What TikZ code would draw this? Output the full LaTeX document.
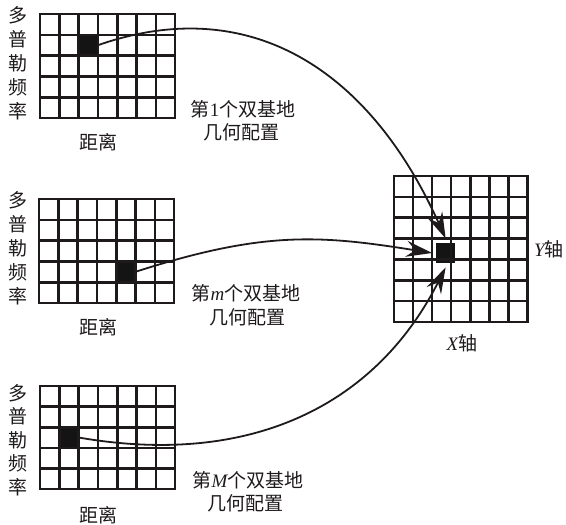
\documentclass[tikz,border=0pt]{standalone}
\usepackage{fontspec}
\setmainfont{Liberation Serif}
\newfontfamily\cjk{Noto Sans CJK SC}
\usetikzlibrary{arrows.meta}
\definecolor{ink}{HTML}{1E1A1B}
\definecolor{cellfill}{HTML}{141414}
\newcommand\drawgrid[6]{% x0,y0,cw,ch,ncols,nrows
  \foreach \i in {0,...,#5} \draw[gridline] ({#1+\i*#3},#2) -- ({#1+\i*#3},{#2+#6*#4});
  \foreach \j in {0,...,#6} \draw[gridline] (#1,{#2+\j*#4}) -- ({#1+#5*#3},{#2+\j*#4});
}
\tikzset{
  gridline/.style={draw=ink, line width=2.6pt, line cap=rect},
  hot/.style={fill=cellfill, draw=none, inner sep=0pt, outer sep=0pt, anchor=north west},
  lbl/.style={font=\cjk\fontsize{19}{21}\selectfont, text=ink, inner sep=0pt, align=center},
  vlbl/.style={font=\cjk\fontsize{19}{24}\selectfont, text=ink, inner sep=0pt, align=center},
  conn/.style={draw=ink, line width=1.8pt, -{Stealth[length=26pt,width=16pt,inset=9pt]}},
}
\begin{document}
\begin{tikzpicture}[x=1pt,y=-1pt]
\useasboundingbox (0,0) rectangle (566,525);
% filled cells
\node[hot, minimum width=19.3pt, minimum height=20.8pt] (c1) at (78.6,34.8) {};
\node[hot, minimum width=19.3pt, minimum height=20.8pt] (c2) at (116.2,261.4) {};
\node[hot, minimum width=19.3pt, minimum height=20.6pt] (c3) at (59.3,427.2) {};
\node[hot, minimum width=19.05pt, minimum height=20.85pt, outer sep=4pt] (T) at (432.1,238.55) {};
% grids
\drawgrid{40}{14}{19.3}{20.8}{7}{5}
\drawgrid{39}{199}{19.3}{20.8}{7}{5}
\drawgrid{40}{386}{19.3}{20.6}{7}{5}
\drawgrid{394}{176}{19.05}{20.85}{7}{7}
% labels
\node[vlbl] (d1) at (18,63.5) {多\\普\\勒\\频\\率};
\node[vlbl] (d2) at (18,248.5) {多\\普\\勒\\频\\率};
\node[vlbl, font=\cjk\fontsize{19}{23.5}\selectfont] (d3) at (18,440) {多\\普\\勒\\频\\率};
\node[lbl] (r1) at (98,142) {距离};
\node[lbl] (r2) at (98,327) {距离};
\node[lbl] (r3) at (98,515) {距离};
\node[lbl] (g1) at (243,109) {第{\rmfamily 1}个双基地};
\node[lbl] (h1) at (241,132) {几何配置};
\node[lbl] (g2) at (246,293) {第{\rmfamily\itshape m}个双基地};
\node[lbl] (h2) at (247,317) {几何配置};
\node[lbl] (g3) at (248,480) {第{\rmfamily\itshape M}个双基地};
\node[lbl] (h3) at (245,503) {几何配置};
\node[lbl] (ya) at (549,249) {{\rmfamily\itshape Y}轴};
\node[lbl] (xa) at (462,343) {{\rmfamily\itshape X}轴};
% connectors
\draw[conn] (c1.east) .. controls (250,-8) and (370,70) .. (T.north);
\draw[conn] (c2.east) .. controls (264,230.5) and (320,235) .. (T.west);
\draw[conn] (c3.east) .. controls (251,467.5) and (376,405) .. (T.south);
\end{tikzpicture}
\end{document}
